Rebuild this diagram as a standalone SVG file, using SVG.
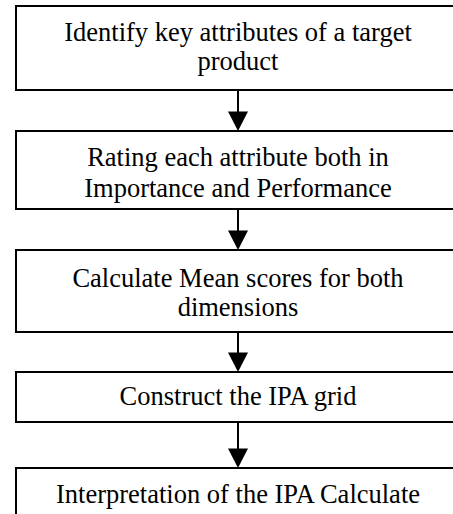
<svg xmlns="http://www.w3.org/2000/svg" width="453" height="514" viewBox="0 0 453 514">
<style>
.box{fill:#fff;stroke:#000;stroke-width:2}
.t{font-family:"Liberation Serif","Times New Roman",serif;font-size:26.5px;fill:#000;text-anchor:middle}
.ln{stroke:#000;stroke-width:2;fill:none}
.hd{fill:#000}
</style>
<rect width="453" height="514" fill="#fff"/>
<g id="node1">
<rect class="box" x="16" y="6" width="446" height="84"/>
<text class="t" x="238" y="41">Identify key attributes of a target</text>
<text class="t" x="238" y="70">product</text>
</g>
<g id="node2">
<rect class="box" x="16" y="131" width="446" height="78"/>
<text class="t" x="238" y="166">Rating each attribute both in</text>
<text class="t" x="238" y="196.5">Importance and Performance</text>
</g>
<g id="node3">
<rect class="box" x="16" y="250" width="446" height="82"/>
<text class="t" x="238" y="286.5">Calculate Mean scores for both</text>
<text class="t" x="238" y="315.5">dimensions</text>
</g>
<g id="node4">
<rect class="box" x="16" y="372" width="446" height="50"/>
<text class="t" x="238" y="405">Construct the IPA grid</text>
</g>
<g id="node5">
<rect class="box" x="16" y="468" width="446" height="60"/>
<text class="t" x="238" y="503">Interpretation of the IPA Calculate</text>
</g>
<g id="connectors">
<line class="ln" x1="238" y1="91" x2="238" y2="112"/>
<polygon class="hd" points="228,111.5 248,111.5 238,131"/>
<line class="ln" x1="238" y1="210" x2="238" y2="231"/>
<polygon class="hd" points="228,230.5 248,230.5 238,250"/>
<line class="ln" x1="238" y1="333" x2="238" y2="353"/>
<polygon class="hd" points="228,352.5 248,352.5 238,372"/>
<line class="ln" x1="238" y1="423" x2="238" y2="449"/>
<polygon class="hd" points="228,448.5 248,448.5 238,468"/>
</g>
</svg>
